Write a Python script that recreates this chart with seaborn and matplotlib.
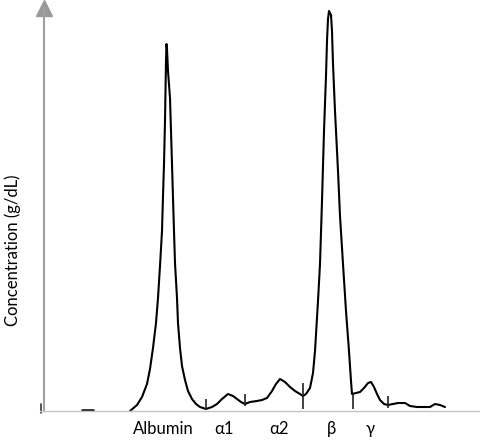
import pandas as pd
import matplotlib
matplotlib.use("Agg")
import matplotlib.pyplot as plt
import seaborn as sns

# Densitometry trace (migration position, concentration)
position = [86, 93, 98, 103, 106, 109, 112, 114, 116, 118, 119, 120, 121, 121.5,
            122, 122.5, 123, 124, 126, 127, 128, 129, 130, 131, 133, 134, 136, 138,
            141, 144, 148, 152, 156, 162, 168, 173, 178, 184, 189, 193, 197, 201,
            206, 213, 218, 223, 228, 232, 236, 241, 246, 251, 256, 259, 262, 266,
            269, 271, 274, 276, 278, 280, 282, 283, 284, 285, 287, 288, 289, 291,
            293, 294, 296, 299, 302, 305, 307, 308, 312, 316, 320, 324, 327, 330,
            333, 336, 340, 344, 349, 354, 361, 366, 373, 381, 386, 391, 396, 401]
concentration = [0.00, 0.06, 0.14, 0.27, 0.42, 0.63, 0.88, 1.13, 1.45, 1.80, 2.15,
                 2.47, 2.90, 3.20, 3.50, 3.67, 3.62, 3.40, 3.13, 2.80, 2.47, 2.13,
                 1.80, 1.48, 1.13, 0.88, 0.63, 0.45, 0.31, 0.20, 0.12, 0.07, 0.04,
                 0.02, 0.04, 0.07, 0.12, 0.17, 0.15, 0.12, 0.09, 0.07, 0.09, 0.10,
                 0.11, 0.13, 0.20, 0.27, 0.32, 0.29, 0.24, 0.20, 0.17, 0.15, 0.17,
                 0.23, 0.38, 0.60, 1.10, 1.47, 2.10, 2.80, 3.35, 3.70, 3.92, 4.00,
                 3.96, 3.80, 3.47, 3.00, 2.60, 2.40, 1.95, 1.47, 1.00, 0.60, 0.30,
                 0.17, 0.18, 0.19, 0.23, 0.28, 0.29, 0.24, 0.17, 0.11, 0.07, 0.06,
                 0.07, 0.08, 0.08, 0.05, 0.04, 0.04, 0.04, 0.07, 0.06, 0.04]

# fraction separators (position, top, bottom)
sep_pos = [162, 201, 259, 309, 344]
sep_top = [0.12, 0.17, 0.28, 0.17, 0.15]
sep_bottom = [0.01, 0.05, 0.02, 0.02, 0.03]

fractions = ["Albumin", "α1", "α2", "β", "γ"]
fraction_pos = [119, 180, 235, 287, 326]

trace = pd.DataFrame({"position": position, "concentration": concentration})

sns.set_theme(style="white")
plt.rcParams["font.family"] = ["Lato", "DejaVu Sans"]

fig = plt.figure(figsize=(4.8, 4.47), dpi=100)
ax = fig.add_axes([40 / 480, 36 / 447, 440 / 480, 401 / 447])

sns.lineplot(
    data=trace,
    x="position",
    y="concentration",
    sort=False,
    estimator=None,
    color="black",
    linewidth=1.5,
    ax=ax
)

ax.vlines(sep_pos, sep_bottom, sep_top, color="#222222", linewidth=1.2)

# stray marks on the baseline of the scan
ax.plot([-3, -3], [-0.02, 0.07], color="#333333", linewidth=1.2, clip_on=False)
ax.plot([38, 49], [0.015, 0.015], color="#222222", linewidth=2, clip_on=False)

ax.set_xlim(-4, 436)
ax.set_ylim(0, 4.01)

for side in ["top", "right"]:
    ax.spines[side].set_visible(False)
ax.spines["left"].set_position(("data", 0))
ax.spines["left"].set_color("#a0a0a0")
ax.spines["left"].set_linewidth(1.5)
ax.spines["bottom"].set_color("#c4c4c4")
ax.spines["bottom"].set_linewidth(1.0)

# arrow head on the y axis
ax.plot([0], [1.005], marker="^", markersize=11, color="#9a9a9a",
        transform=ax.get_xaxis_transform(), clip_on=False)

ax.set_yticks([])
ax.set_xticks(fraction_pos, fractions)
ax.tick_params(axis="x", length=0, pad=7, labelsize=12, labelcolor="black")

ax.set_xlabel("")
ax.set_ylabel("Concentration (g/dL)", fontsize=12, color="black")
ax.yaxis.set_label_coords(-19 / 440, 0.40)

fig.savefig("out.png", dpi=100)
